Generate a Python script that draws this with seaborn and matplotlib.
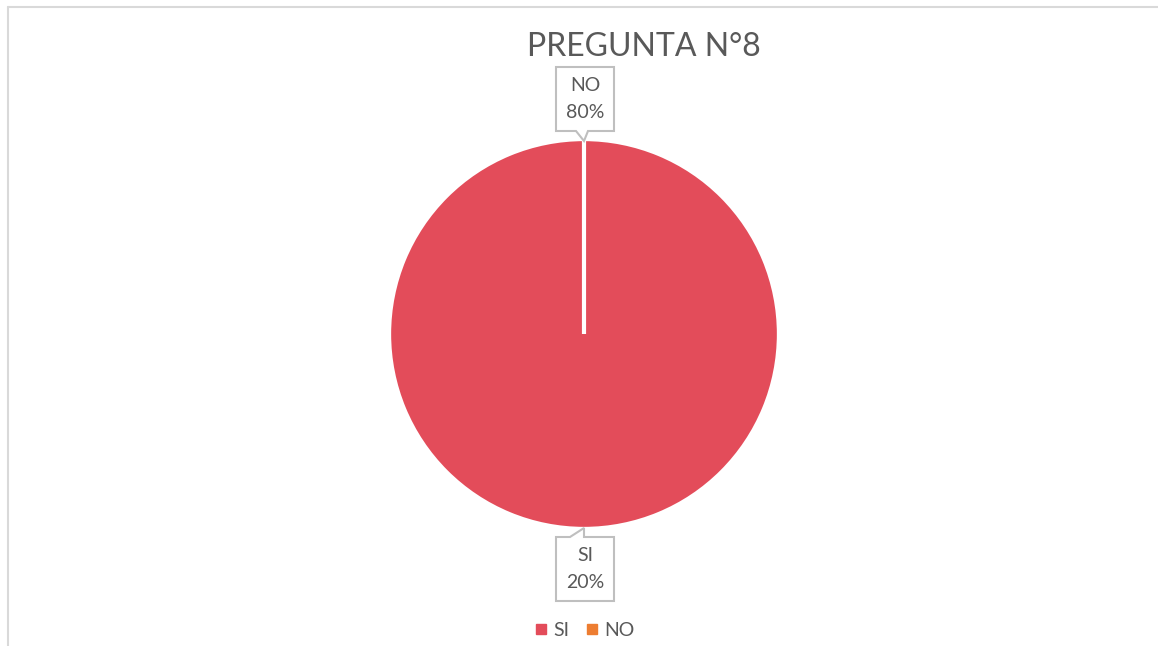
import matplotlib
matplotlib.use("Agg")
import matplotlib.pyplot as plt
from matplotlib.lines import Line2D
from matplotlib.patches import Polygon
import numpy as np
import seaborn as sns

# data
categories = ["SI", "NO"]
shares = [100, 0]              # drawn slice sizes (NO slice is empty)
label_pct = ["20%", "80%"]     # percentages printed in the callouts
colors = ["#E34C5A", "#ED7D31"]
title = "PREGUNTA N°8"

sns.set_theme(style="white")
plt.rcParams["font.family"] = ["Lato", "DejaVu Sans"]
text_color = "#595959"

W, H = 1158, 646
fig = plt.figure(figsize=(W / 100, H / 100), dpi=100)
ax = fig.add_axes([0, 0, 1, 1])

wedges, _ = ax.pie(shares, colors=colors, startangle=90, counterclock=False,
                   radius=1.01, wedgeprops=dict(edgecolor="white", linewidth=3))

# pixel scale: radius 193 px, center at (584, 334)
r_px, cx, cy = 193.0, 584.0, 334.0
ax.set_xlim(-cx / r_px, (W - cx) / r_px)
ax.set_ylim(-(H - cy) / r_px, cy / r_px)
ax.set_aspect("auto")
ax.axis("off")

# callout labels
bw, bh = 58 / r_px, 64 / r_px
gap = 10 / r_px
for w, cat, pct in zip(wedges, categories, label_pct):
    mid = np.deg2rad((w.theta1 + w.theta2) / 2)
    tx, ty = np.cos(mid), np.sin(mid)
    if ty >= 0:
        y0 = ty + gap
        x0 = tx - 28 / r_px
        pts = [(x0, y0), (tx - 8 / r_px, y0), (tx, ty), (tx + 4 / r_px, y0),
               (x0 + bw, y0), (x0 + bw, y0 + bh), (x0, y0 + bh)]
        yc = y0 + bh / 2
    else:
        y1 = ty - gap
        x0 = tx - 28 / r_px
        pts = [(x0, y1), (tx - 14 / r_px, y1), (tx, ty - 1 / r_px), (tx, y1),
               (x0 + bw, y1), (x0 + bw, y1 - bh), (x0, y1 - bh)]
        yc = y1 - bh / 2
    ax.add_patch(Polygon(pts, closed=True, facecolor="white",
                         edgecolor="#BFBFBF", linewidth=1.5, zorder=5))
    ax.text(x0 + bw / 2, yc, f"{cat}\n{pct}", ha="center", va="center",
            fontsize=14, color=text_color, linespacing=1.75, zorder=6)

fig.text(644 / W, 1 - 47 / H, title, ha="center", va="center",
         fontsize=23, color=text_color)

handles = [Line2D([0], [0], marker="s", linestyle="", markersize=6.5,
                  markerfacecolor=c, markeredgecolor=c) for c in colors]
fig.legend(handles, categories, loc="center", bbox_to_anchor=(584 / W, 1 - 630 / H),
           ncol=2, frameon=False, fontsize=14, labelcolor=text_color,
           handletextpad=0.2, columnspacing=0.8, handlelength=0.8)

# chart frame (top and left edges visible)
fig.add_artist(Line2D([8 / W, 1], [1 - 7 / H, 1 - 7 / H], color="#D9D9D9", linewidth=1.5))
fig.add_artist(Line2D([8 / W, 8 / W], [0, 1 - 7 / H], color="#D9D9D9", linewidth=1.5))

fig.savefig("out.png", dpi=100, facecolor="white")
